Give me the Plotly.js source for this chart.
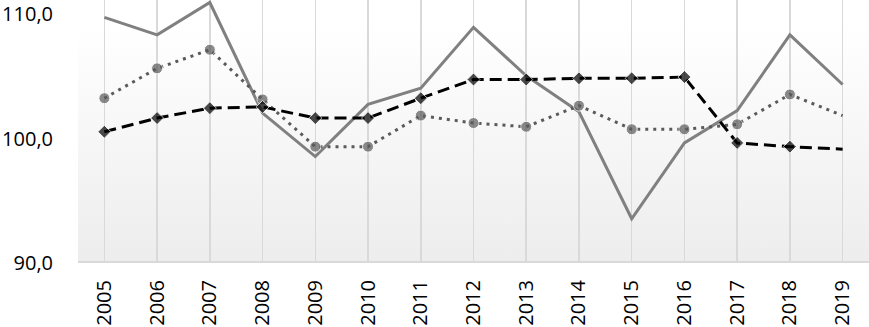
<!DOCTYPE html>
<html><head><meta charset="utf-8">
<script src="https://cdn.plot.ly/plotly-3.0.1.min.js"></script>
<style>
html,body{margin:0;padding:0;background:#fff;}
#wrap{position:relative;width:869px;height:327px;overflow:hidden;}
#bg{position:absolute;left:78px;top:0;width:791px;height:261px;background:linear-gradient(to bottom,#ffffff 0%,#ffffff 10%,#ededed 100%);}
#chart{position:absolute;left:0;top:0;width:869px;height:327px;}
</style></head>
<body><div id="wrap"><div id="bg"></div><div id="chart"></div></div>
<script>
const years = ['2005','2006','2007','2008','2009','2010','2011','2012','2013','2014','2015','2016','2017','2018','2019'];
const seriesSolid = [109.6,108.2,110.8,101.9,98.4,102.6,103.9,108.8,104.9,102.0,93.4,99.5,102.1,108.2,104.2];
const seriesDotted = [103.1,105.5,107.0,103.0,99.2,99.2,101.7,101.1,100.8,102.5,100.6,100.6,101.0,103.4,101.7];
const seriesDashed = [100.4,101.5,102.3,102.4,101.5,101.5,103.1,104.6,104.6,104.7,104.7,104.8,99.5,99.2,99.0];
const yTicks = [90,100,110];

const lastHidden = (n, s) => Array.from({length:n}, (_, i) => i === n-1 ? 0 : s);

const traces = [
  {x: years, y: seriesSolid, type:'scatter', mode:'lines',
   line:{color:'#808080', width:3}, hoverinfo:'none'},
  {x: years, y: seriesDotted, type:'scatter', mode:'lines+markers',
   line:{color:'#5a5a5a', width:3, dash:'3px,5px'},
   marker:{symbol:'circle', color:'#5a5a5a', size:lastHidden(years.length, 11)}, hoverinfo:'none'},
  {x: years, y: seriesDashed, type:'scatter', mode:'lines+markers',
   line:{color:'#000000', width:3, dash:'12px,6px'},
   marker:{symbol:'diamond', color:'#000000', size:lastHidden(years.length, 10)}, hoverinfo:'none'}
];

const layout = {
  width:869, height:327,
  margin:{l:78, r:0, t:0, b:66, pad:0},
  paper_bgcolor:'rgba(0,0,0,0)', plot_bgcolor:'rgba(0,0,0,0)',
  showlegend:false,
  separators:', ',
  font:{family:'Open Sans, sans-serif', size:20, color:'#000'},
  xaxis:{type:'category', range:[-0.5, years.length-0.5], tickangle:-90,
    showgrid:true, gridcolor:'#d9d9d9', gridwidth:1.5,
    showline:true, linecolor:'#d9d9d9', linewidth:2,
    ticks:'', ticklabelstandoff:9, zeroline:false, ticklabeloverflow:'allow',
    tickfont:{family:'Open Sans, sans-serif', size:20, color:'#000'}},
  yaxis:{range:[90,111], tickvals:yTicks, tickformat:'.1f',
    showgrid:false, zeroline:false, showline:false, ticks:'',
    ticklabelstandoff:24, ticklabeloverflow:'allow', ticklabelshift:2,
    tickfont:{family:'Open Sans, sans-serif', size:20, color:'#000'}}
};
Plotly.newPlot('chart', traces, layout, {staticPlot:true, displayModeBar:false});
</script></body></html>
